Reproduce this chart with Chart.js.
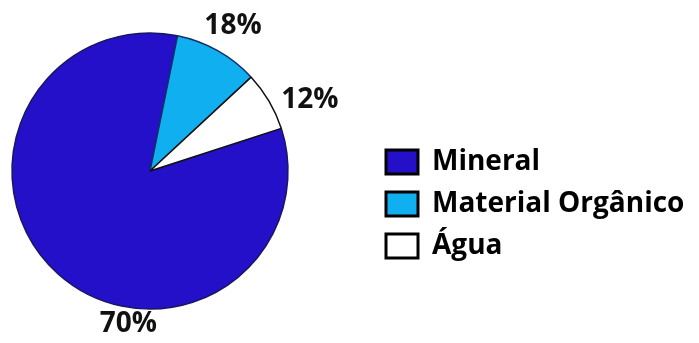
<!DOCTYPE html>
<html>
<head>
<meta charset="utf-8">
<script src="https://cdn.jsdelivr.net/npm/chart.js@4/dist/chart.umd.min.js"></script>
<style>
html,body{margin:0;padding:0;background:#fff;}
#wrap{width:699px;height:343px;position:relative;}
</style>
</head>
<body>
<div id="wrap"><canvas id="c" width="699" height="343"></canvas></div>
<script>
// Data
const categories = ["Mineral", "Material Orgânico", "Água"];
const sliceValues = [83.2, 9.9, 6.9];          // visual slice sizes (%)
const sliceLabels = ["70%", "18%", "12%"];      // printed percentage labels
const sliceColors = ["#2410C8", "#10B0F0", "#FFFFFF"];

const FONT = "'Open Sans', 'DejaVu Sans', sans-serif";

const placement = {
  id: 'placement',
  afterLayout(chart) {
    // pie area (center ~150,171, radius ~138)
    const ca = chart.chartArea;
    ca.left = 12; ca.right = 288; ca.top = 33; ca.bottom = 309;
    ca.width = ca.right - ca.left; ca.height = ca.bottom - ca.top;
    const lg = chart.legend;
    const w = lg.width, h = lg.height;
    lg.left = 372; lg.right = lg.left + w;
    lg.top = 134; lg.bottom = lg.top + h;
  }
};

const pctLabels = {
  id: 'pctLabels',
  afterDatasetsDraw(chart, args, opts) {
    const meta = chart.getDatasetMeta(0);
    const ctx = chart.ctx;
    ctx.save();
    ctx.font = "bold 28px " + FONT;
    ctx.fillStyle = "#111";
    ctx.textAlign = "center";
    ctx.textBaseline = "middle";
    meta.data.forEach((arc, i) => {
      const p = opts.pos[i];
      const a = (p.angle - 90) * Math.PI / 180;
      const x = arc.x + Math.cos(a) * p.dist;
      const y = arc.y + Math.sin(a) * p.dist;
      ctx.fillText(sliceLabels[i], x, y);
    });
    ctx.restore();
  }
};

new Chart(document.getElementById('c'), {
  type: 'pie',
  data: {
    labels: categories,
    datasets: [{
      data: sliceValues,
      backgroundColor: sliceColors,
      borderColor: ["#1a1660", "#12306a", "#111111"],
      borderWidth: 1.5
    }]
  },
  options: {
    responsive: false,
    animation: false,
    rotation: 72,
    radius: 138,
    layout: { padding: 0 },
    plugins: {
      tooltip: { enabled: false },
      legend: {
        position: 'right',
        align: 'start',
        labels: {
          boxWidth: 32,
          boxHeight: 24,
          padding: 14,
          color: '#111',
          font: { family: FONT, size: 28, weight: 'bold' },
          generateLabels(chart) {
            return chart.data.labels.map((t, i) => ({
              text: t,
              fillStyle: sliceColors[i],
              strokeStyle: '#000',
              lineWidth: 3,
              hidden: false,
              index: i
            }));
          }
        }
      },
      pctLabels: {
        pos: [
          { angle: 188, dist: 155 },
          { angle: 29.8, dist: 167 },
          { angle: 66, dist: 175 }
        ]
      }
    }
  },
  plugins: [placement, pctLabels]
});
</script>
</body>
</html>
